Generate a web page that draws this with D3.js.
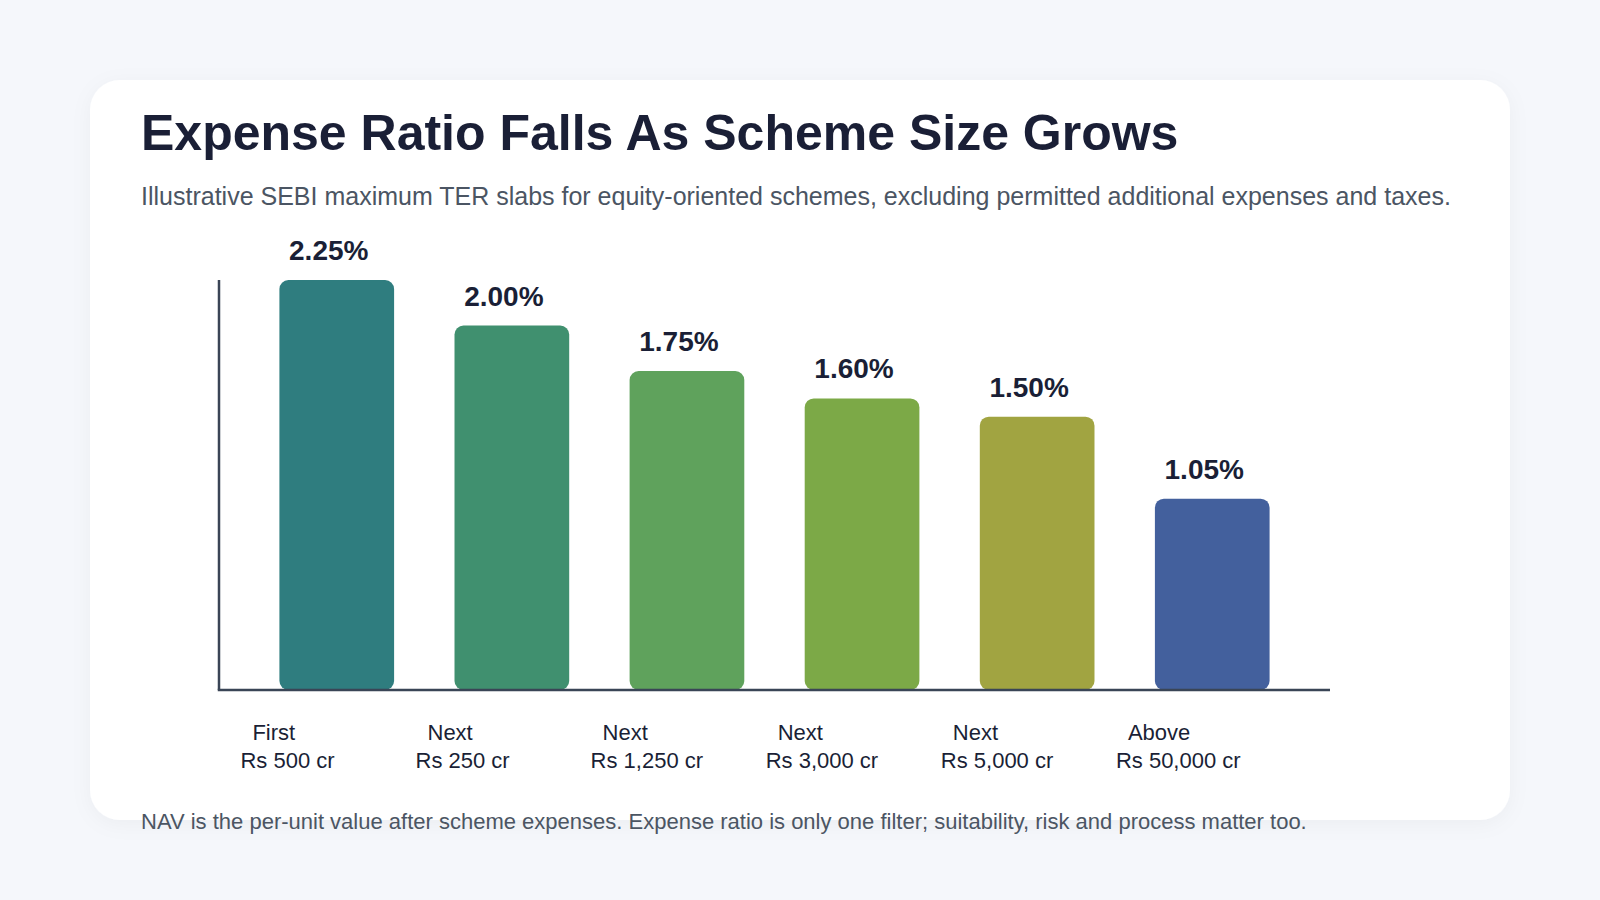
<!DOCTYPE html>
<html>
<head>
<meta charset="utf-8">
<script src="https://cdn.jsdelivr.net/npm/d3@7"></script>
<style>
  html, body { margin: 0; padding: 0; background: #f5f7fb; }
  body { width: 1600px; height: 900px; overflow: hidden; font-family: "Liberation Sans", Arial, Helvetica, sans-serif; }
</style>
</head>
<body>
<div id="chart"></div>
<script>
// Data
const slabPrefix = ["First", "Next", "Next", "Next", "Next", "Above"];
const slabAmount = ["Rs 500 cr", "Rs 250 cr", "Rs 1,250 cr", "Rs 3,000 cr", "Rs 5,000 cr", "Rs 50,000 cr"];
const terValues = [2.25, 2.00, 1.75, 1.60, 1.50, 1.05];
const barColors = ["#2f7d7f", "#40906f", "#5fa25c", "#7ca947", "#a1a441", "#43609d"];

const titleText = "Expense Ratio Falls As Scheme Size Grows";
const subtitleText = "Illustrative SEBI maximum TER slabs for equity-oriented schemes, excluding permitted additional expenses and taxes.";
const footerText = "NAV is the per-unit value after scheme expenses. Expense ratio is only one filter; suitability, risk and process matter too.";

const W = 1600, H = 900;
const card = { x: 90, y: 80, w: 1420, h: 740, r: 30 };
const plot = { left: 219, right: 1330, top: 280, bottom: 690 };

const svg = d3.select("#chart")
    .append("svg")
    .attr("width", W)
    .attr("height", H);

// soft card shadow
const defs = svg.append("defs");
const f = defs.append("filter").attr("id", "shadow")
    .attr("x", "-5%").attr("y", "-5%").attr("width", "110%").attr("height", "115%");
f.append("feDropShadow")
    .attr("dx", 0).attr("dy", 4).attr("stdDeviation", 10)
    .attr("flood-color", "#1e293b").attr("flood-opacity", 0.04);

svg.append("rect")
    .attr("x", card.x).attr("y", card.y)
    .attr("width", card.w).attr("height", card.h)
    .attr("rx", card.r)
    .attr("fill", "#ffffff")
    .attr("filter", "url(#shadow)");

svg.append("text")
    .attr("x", 141).attr("y", 150)
    .attr("font-size", 50).attr("font-weight", 700)
    .attr("fill", "#1a1f36")
    .text(titleText);

svg.append("text")
    .attr("x", 141).attr("y", 205)
    .attr("font-size", 25)
    .attr("fill", "#4b5563")
    .text(subtitleText);

// Scales
const idx = d3.range(terValues.length);
const x = d3.scaleBand()
    .domain(idx)
    .range([plot.left, plot.right])
    .padding(0.345);

const y = d3.scaleLinear()
    .domain([0, d3.max(terValues)])
    .range([plot.bottom, plot.top]);

// Bars
svg.append("g").selectAll("rect")
    .data(idx)
    .join("rect")
    .attr("x", i => x(i))
    .attr("y", i => y(terValues[i]))
    .attr("width", x.bandwidth())
    .attr("height", i => y(0) - y(terValues[i]))
    .attr("rx", 9)
    .attr("fill", i => barColors[i]);

// Axes lines
svg.append("line")
    .attr("x1", plot.left).attr("x2", plot.left)
    .attr("y1", plot.top).attr("y2", plot.bottom)
    .attr("stroke", "#3a4556").attr("stroke-width", 2.5);
svg.append("line")
    .attr("x1", plot.left - 1.25).attr("x2", plot.right)
    .attr("y1", plot.bottom).attr("y2", plot.bottom)
    .attr("stroke", "#3a4556").attr("stroke-width", 2.5);

// Value labels
svg.append("g").selectAll("text")
    .data(idx)
    .join("text")
    .attr("x", i => x(i) + x.bandwidth() / 2 - 8)
    .attr("y", i => y(terValues[i]) - 20)
    .attr("text-anchor", "middle")
    .attr("font-size", 28).attr("font-weight", 700)
    .attr("fill", "#1a1f36")
    .text(i => terValues[i].toFixed(2) + "%");

// Category labels (two lines)
const lab = svg.append("g").selectAll("text")
    .data(idx)
    .join("text")
    .attr("font-size", 22)
    .attr("fill", "#1a1f36");
lab.append("tspan")
    .attr("x", i => x(i) - 27)
    .attr("y", 740)
    .text(i => slabPrefix[i]);
lab.append("tspan")
    .attr("x", i => x(i) - 39)
    .attr("y", 768)
    .text(i => slabAmount[i]);

svg.append("text")
    .attr("x", 141).attr("y", 829)
    .attr("font-size", 22)
    .attr("fill", "#4b5563")
    .text(footerText);
</script>
</body>
</html>
